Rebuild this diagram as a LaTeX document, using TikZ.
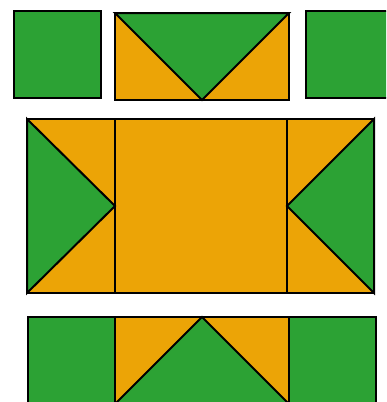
\documentclass[tikz,border=0pt]{standalone}
\definecolor{qgreen}{RGB}{44,162,52}
\definecolor{qorange}{RGB}{236,164,6}
\tikzset{piece/.style={draw=black,line width=2pt,line join=miter}}
\begin{document}
\begin{tikzpicture}[x=1pt,y=-1pt]
\useasboundingbox (0,0) rectangle (386,402);
\clip (0,0) rectangle (386,402);
% top row
\fill[qgreen,piece] (14,11) rectangle (101,98);
\fill[qorange,piece] (115,13) rectangle (289,100);
\fill[qgreen,piece] (115,13) -- (289,13) -- (202,100) -- cycle;
\fill[qgreen,piece] (306,11) rectangle (393,98);
% middle
\fill[qorange,piece] (27,119) rectangle (374,293);
\draw[piece] (115,119) -- (115,293);
\draw[piece] (287,119) -- (287,293);
\fill[qgreen,piece] (27,119) -- (115,206) -- (27,293) -- cycle;
\fill[qgreen,piece] (374,119) -- (287,206) -- (374,293) -- cycle;
% bottom
\fill[qorange,piece] (115,317) rectangle (289,404);
\fill[qgreen,piece] (115,404) -- (202,317) -- (289,404) -- cycle;
\fill[qgreen,piece] (28,317) rectangle (115,404);
\fill[qgreen,piece] (289,317) rectangle (376,404);
\end{tikzpicture}
\end{document}
